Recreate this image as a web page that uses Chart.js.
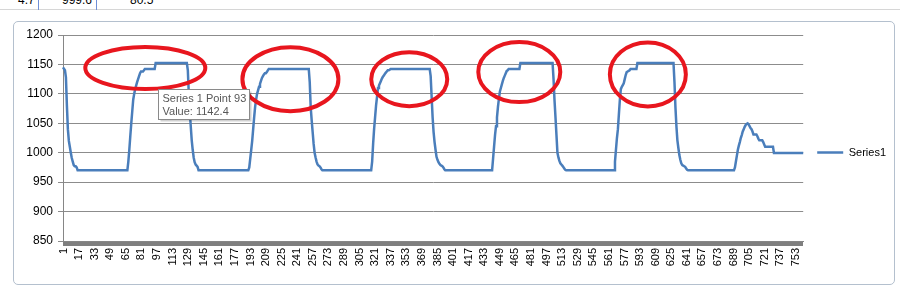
<!DOCTYPE html>
<html>
<head>
<meta charset="utf-8">
<script src="https://cdn.jsdelivr.net/npm/chart.js@4"></script>
<style>
html, body { margin: 0; padding: 0; background: #fff; }
body { width: 900px; height: 290px; position: relative; overflow: hidden; font-family: "Liberation Sans", Arial, sans-serif; }
.sheet-row { position: absolute; left: 0; top: -7px; width: 900px; height: 16px; border-bottom: 1px solid #d6d6d6; font-size: 12px; color: #000; }
.sheet-row span { position: absolute; top: 0; }
.col { position: absolute; top: 0; width: 1px; height: 10px; background: #6f8fd8; }
.frame { position: absolute; left: 13px; top: 21px; width: 880px; height: 262px; border: 1px solid #b4c0ce; border-radius: 5px; background: #fff; }
#wrap { position: absolute; left: 0; top: 0; width: 900px; height: 290px; }
</style>
</head>
<body>
<div class="sheet-row"><span style="left:18px">4.7</span><span style="left:62px">999.6</span><span style="left:130px">80.5</span></div>
<div class="col" style="left:38px"></div>
<div class="col" style="left:96px"></div>
<div class="frame"></div>
<div id="wrap"><canvas id="chart" width="900" height="290"></canvas></div>
<script>
// series, one value per row number
const values = [
  1145, 1145, 1140, 1128, 1080, 1040, 1020, 1010, 1000, 991,            // 1
  985, 979, 977, 977, 975, 970, 970, 970, 970, 970,                      // 11
  970, 970, 970, 970, 970, 970, 970, 970, 970, 970,                      // 21
  970, 970, 970, 970, 970, 970, 970, 970, 970, 970,                      // 31
  970, 970, 970, 970, 970, 970, 970, 970, 970, 970,                      // 41
  970, 970, 970, 970, 970, 970, 970, 970, 970, 970,                      // 51
  970, 970, 970, 970, 970, 970, 970, 985, 1005, 1028,                    // 61
  1050, 1070, 1090, 1100, 1108, 1114, 1120, 1125, 1130, 1135,            // 71
  1138, 1138, 1138, 1140, 1142.4, 1142.4, 1142.4, 1142.4, 1142.4, 1142.4, // 81
  1142.4, 1142.4, 1142.4, 1142.4, 1142.4, 1152.4, 1152.4, 1152.4, 1152.4, 1152.4, // 91
  1152.4, 1152.4, 1152.4, 1152.4, 1152.4, 1152.4, 1152.4, 1152.4, 1152.4, 1152.4, // 101
  1152.4, 1152.4, 1152.4, 1152.4, 1152.4, 1152.4, 1152.4, 1152.4, 1152.4, 1152.4, // 111
  1152.4, 1152.4, 1152.4, 1152.4, 1152.4, 1152.4, 1152.4, 1152.4, 1140, 1100,     // 121
  1070, 1045, 1021, 1005, 992, 984, 980, 978, 976, 970,                  // 131
  970, 970, 970, 970, 970, 970, 970, 970, 970, 970,                      // 141
  970, 970, 970, 970, 970, 970, 970, 970, 970, 970,                      // 151
  970, 970, 970, 970, 970, 970, 970, 970, 970, 970,                      // 161
  970, 970, 970, 970, 970, 970, 970, 970, 970, 970,                      // 171
  970, 970, 970, 970, 970, 970, 970, 970, 970, 970,                      // 181
  970, 975, 990, 1005, 1020, 1040, 1060, 1078, 1090, 1100,               // 191
  1106, 1112, 1117, 1122, 1127, 1130, 1133, 1135, 1135, 1137,            // 201
  1140, 1142.4, 1142.4, 1142.4, 1142.4, 1142.4, 1142.4, 1142.4, 1142.4, 1142.4,   // 211
  1142.4, 1142.4, 1142.4, 1142.4, 1142.4, 1142.4, 1142.4, 1142.4, 1142.4, 1142.4, // 221
  1142.4, 1142.4, 1142.4, 1142.4, 1142.4, 1142.4, 1142.4, 1142.4, 1142.4, 1142.4, // 231
  1142.4, 1142.4, 1142.4, 1142.4, 1142.4, 1142.4, 1142.4, 1142.4, 1142.4, 1142.4, // 241
  1142.4, 1142.4, 1142.4, 1120, 1077, 1055, 1035, 1015, 1000, 992,       // 251
  985, 980, 978, 977, 975, 972, 970, 970, 970, 970,                      // 261
  970, 970, 970, 970, 970, 970, 970, 970, 970, 970,                      // 271
  970, 970, 970, 970, 970, 970, 970, 970, 970, 970,                      // 281
  970, 970, 970, 970, 970, 970, 970, 970, 970, 970,                      // 291
  970, 970, 970, 970, 970, 970, 970, 970, 970, 970,                      // 301
  970, 970, 970, 970, 970, 970, 970, 985, 1015, 1040,                    // 311
  1060, 1080, 1095, 1110, 1114, 1118, 1122, 1126, 1129, 1131,            // 321
  1134, 1136, 1138, 1140, 1140, 1141, 1142.4, 1142.4, 1142.4, 1142.4,    // 331
  1142.4, 1142.4, 1142.4, 1142.4, 1142.4, 1142.4, 1142.4, 1142.4, 1142.4, 1142.4, // 341
  1142.4, 1142.4, 1142.4, 1142.4, 1142.4, 1142.4, 1142.4, 1142.4, 1142.4, 1142.4, // 351
  1142.4, 1142.4, 1142.4, 1142.4, 1142.4, 1142.4, 1142.4, 1142.4, 1142.4, 1142.4, // 361
  1142.4, 1142.4, 1142.4, 1142.4, 1142.4, 1142.4, 1142.4, 1130, 1095, 1060,       // 371
  1035, 1018, 1005, 993, 988, 984, 981, 979, 978, 977,                   // 381
  975, 972, 970, 970, 970, 970, 970, 970, 970, 970,                      // 391
  970, 970, 970, 970, 970, 970, 970, 970, 970, 970,                      // 401
  970, 970, 970, 970, 970, 970, 970, 970, 970, 970,                      // 411
  970, 970, 970, 970, 970, 970, 970, 970, 970, 970,                      // 421
  970, 970, 970, 970, 970, 970, 970, 970, 970, 970,                      // 431
  970, 990, 1010, 1030, 1045, 1060, 1078, 1092, 1104, 1110,              // 441
  1116, 1122, 1127, 1131, 1135, 1139, 1140, 1142.4, 1142.4, 1142.4,      // 451
  1142.4, 1142.4, 1142.4, 1142.4, 1142.4, 1142.4, 1142.4, 1142.4, 1142.4, 1152.4, // 461
  1152.4, 1152.4, 1152.4, 1152.4, 1152.4, 1152.4, 1152.4, 1152.4, 1152.4, 1152.4, // 471
  1152.4, 1152.4, 1152.4, 1152.4, 1152.4, 1152.4, 1152.4, 1152.4, 1152.4, 1152.4, // 481
  1152.4, 1152.4, 1152.4, 1152.4, 1152.4, 1152.4, 1152.4, 1152.4, 1152.4, 1152.4, // 491
  1152.4, 1152.4, 1152.4, 1125, 1089, 1060, 1030, 1000, 992, 986,        // 501
  982, 980, 978, 976, 973, 971, 970, 970, 970, 970,                      // 511
  970, 970, 970, 970, 970, 970, 970, 970, 970, 970,                      // 521
  970, 970, 970, 970, 970, 970, 970, 970, 970, 970,                      // 531
  970, 970, 970, 970, 970, 970, 970, 970, 970, 970,                      // 541
  970, 970, 970, 970, 970, 970, 970, 970, 970, 970,                      // 551
  970, 970, 970, 970, 970, 970, 985, 1005, 1025, 1040,                   // 561
  1065, 1090, 1108, 1112, 1115, 1118, 1125, 1132, 1137, 1138,            // 571
  1139, 1140, 1142.4, 1142.4, 1142.4, 1142.4, 1142.4, 1142.4, 1142.4, 1152.4,     // 581
  1152.4, 1152.4, 1152.4, 1152.4, 1152.4, 1152.4, 1152.4, 1152.4, 1152.4, 1152.4, // 591
  1152.4, 1152.4, 1152.4, 1152.4, 1152.4, 1152.4, 1152.4, 1152.4, 1152.4, 1152.4, // 601
  1152.4, 1152.4, 1152.4, 1152.4, 1152.4, 1152.4, 1152.4, 1152.4, 1152.4, 1152.4, // 611
  1152.4, 1152.4, 1152.4, 1152.4, 1152.4, 1152.4, 1152.4, 1120, 1077, 1045,       // 621
  1021, 1008, 996, 988, 982, 979, 978, 977, 976, 973,                    // 631
  971, 970, 970, 970, 970, 970, 970, 970, 970, 970,                      // 641
  970, 970, 970, 970, 970, 970, 970, 970, 970, 970,                      // 651
  970, 970, 970, 970, 970, 970, 970, 970, 970, 970,                      // 661
  970, 970, 970, 970, 970, 970, 970, 970, 970, 970,                      // 671
  970, 970, 970, 970, 970, 970, 970, 970, 970, 975,                      // 681
  985, 995, 1005, 1012, 1018, 1025, 1030, 1036, 1040, 1044,              // 691
  1047, 1049, 1050, 1048, 1045, 1042, 1040, 1036, 1031, 1031,            // 701
  1031, 1031, 1028, 1024, 1021, 1021, 1021, 1021, 1018, 1014,            // 711
  1010, 1010, 1010, 1010, 1010, 1010, 1010, 1010, 1010, 999.6,           // 721
  999.6, 999.6, 999.6, 999.6, 999.6, 999.6, 999.6, 999.6, 999.6, 999.6,  // 731
  999.6, 999.6, 999.6, 999.6, 999.6, 999.6, 999.6, 999.6, 999.6, 999.6,  // 741
  999.6, 999.6, 999.6, 999.6, 999.6, 999.6, 999.6, 999.6, 999.6, 999.6   // 751
];
const categories = values.map((v, i) => String(i + 1));
const labelEvery = 16;
const yMin = 850;
const yMax = 1200;
const yStep = 50;

// red hand-drawn ovals: centre (row number, value) and radii in px
const ovalRows = [85, 234, 356, 469, 601];
const ovalValues = [1144, 1125, 1125, 1137, 1133];
const ovalRx = [60, 48, 38, 41, 38];
const ovalRy = [21, 32, 27, 30, 32];

// the Excel hover box
const tipRow = 93;

const overlay = {
    id: 'overlay',
    afterDatasetsDraw(chart) {
        const { ctx, scales: { x, y } } = chart;
        ctx.save();
        ctx.strokeStyle = '#e8161e';
        ctx.lineWidth = 4;
        ovalRows.forEach((row, i) => {
            ctx.beginPath();
            ctx.ellipse(x.getPixelForValue(row - 1), y.getPixelForValue(ovalValues[i]), ovalRx[i], ovalRy[i], 0, 0, Math.PI * 2);
            ctx.stroke();
        });

        // tooltip box
        const px = x.getPixelForValue(tipRow - 1);
        const py = y.getPixelForValue(values[tipRow - 1]);
        const bx = Math.round(px + 5) + 0.5;
        const by = Math.round(py + 20) + 0.5;
        const bw = 91, bh = 30;
        ctx.fillStyle = 'rgba(0,0,0,0.18)';
        ctx.fillRect(bx + 2, by + 2, bw, bh);
        ctx.fillStyle = '#fff';
        ctx.fillRect(bx, by, bw, bh);
        ctx.strokeStyle = '#8a8a8a';
        ctx.lineWidth = 1;
        ctx.strokeRect(bx, by, bw, bh);
        ctx.fillStyle = '#575757';
        ctx.font = '11px "Liberation Sans", Arial, sans-serif';
        ctx.textBaseline = 'alphabetic';
        ctx.fillText('Series 1 Point ' + tipRow, bx + 4, by + 12);
        ctx.fillText('Value: ' + values[tipRow - 1], bx + 4, by + 25);
        ctx.restore();
    }
};

new Chart(document.getElementById('chart'), {
    type: 'line',
    data: {
        labels: categories,
        datasets: [{
            label: 'Series1',
            data: values,
            borderColor: '#4a7ebb',
            backgroundColor: '#4a7ebb',
            borderWidth: 2.5,
            pointRadius: 0,
            tension: 0,
            fill: false
        }]
    },
    options: {
        responsive: false,
        animation: false,
        devicePixelRatio: 1,
        layout: { padding: { left: 14, top: 19, right: 4, bottom: 4 } },
        plugins: {
            legend: {
                position: 'right',
                labels: {
                    usePointStyle: true,
                    pointStyle: 'line',
                    pointStyleWidth: 26,
                    padding: 14,
                    color: '#000',
                    font: { family: '"Liberation Sans", Arial, sans-serif', size: 11 }
                }
            },
            tooltip: { enabled: false }
        },
        scales: {
            // empty strip above the plot, keeps the legend centred on the frame
            top: {
                type: 'category',
                position: 'top',
                grid: { display: false },
                border: { display: false },
                ticks: { display: false },
                afterFit: s => { s.height = 16; }
            },
            x: {
                offset: true,
                afterFit: s => { s.height = 45; },
                border: { color: '#868686', width: 1 },
                grid: { display: true, drawOnChartArea: false, drawTicks: true, tickLength: 5, color: '#7f7f7f' },
                ticks: {
                    autoSkip: false,
                    minRotation: 90,
                    maxRotation: 90,
                    padding: 2,
                    color: '#000',
                    font: { family: '"Liberation Sans", Arial, sans-serif', size: 11 },
                    callback: (v, i) => (i % labelEvery === 0 ? categories[i] : '')
                }
            },
            y: {
                min: yMin,
                max: yMax,
                afterFit: s => { s.width = 49; },
                border: { color: '#868686', width: 1 },
                grid: { color: '#8c8c8c', tickLength: 5 },
                ticks: {
                    stepSize: yStep,
                    padding: 5,
                    color: '#000',
                    font: { family: '"Liberation Sans", Arial, sans-serif', size: 12 },
                    callback: v => String(v)
                }
            }
        }
    },
    plugins: [overlay]
});
</script>
</body>
</html>
